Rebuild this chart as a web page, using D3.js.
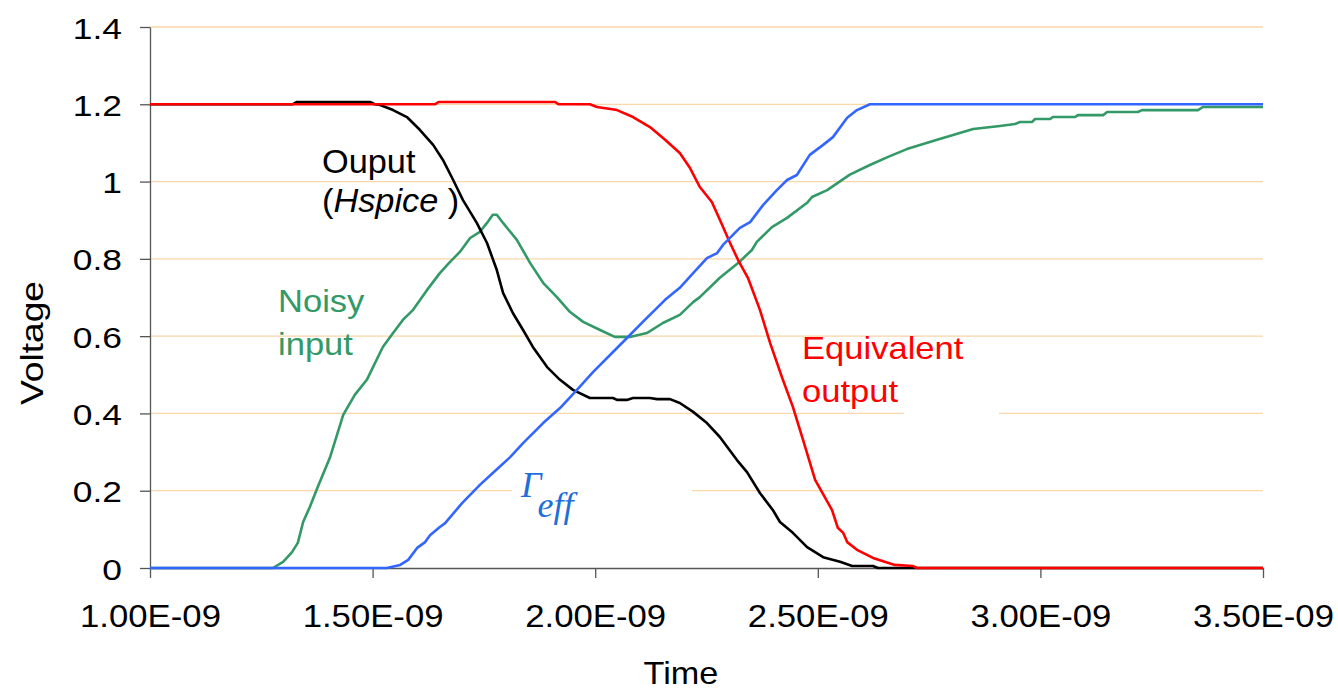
<!DOCTYPE html>
<html>
<head>
<meta charset="utf-8">
<script src="https://cdn.jsdelivr.net/npm/d3@7"></script>
<style>
  body { margin: 0; background: #fff; }
  svg { display: block; font-family: "Liberation Sans", Arial, sans-serif; }
</style>
</head>
<body>
<svg id="chart" width="1338" height="691"></svg>
<script>
// time in ns (axis labels show seconds), voltage in V
var yTicks = [0, 0.2, 0.4, 0.6, 0.8, 1, 1.2, 1.4];
var yLabels = ['0', '0.2', '0.4', '0.6', '0.8', '1', '1.2', '1.4'];
var xTicks = [1, 1.5, 2, 2.5, 3, 3.5];
var xLabels = ['1.00E-09', '1.50E-09', '2.00E-09', '2.50E-09', '3.00E-09', '3.50E-09'];

var noisyInput = [[1.000,0],[1.276,0],[1.299,0.016],[1.319,0.041],[1.332,0.065],[1.344,0.119],[1.359,0.158],
  [1.377,0.210],[1.404,0.285],[1.434,0.396],[1.460,0.448],[1.487,0.487],[1.523,0.572],[1.546,0.608],
  [1.568,0.642],[1.591,0.668],[1.622,0.719],[1.651,0.763],[1.674,0.792],[1.696,0.818],[1.719,0.854],
  [1.741,0.870],[1.757,0.893],[1.770,0.914],[1.779,0.914],[1.793,0.893],[1.824,0.849],[1.854,0.789],
  [1.883,0.738],[1.914,0.701],[1.943,0.663],[1.973,0.637],[2.011,0.616],[2.044,0.598],[2.078,0.598],
  [2.116,0.608],[2.152,0.634],[2.190,0.655],[2.220,0.688],[2.235,0.701],[2.280,0.751],[2.321,0.789],
  [2.352,0.823],[2.363,0.844],[2.397,0.882],[2.431,0.906],[2.476,0.945],[2.487,0.960],[2.521,0.978],
  [2.572,1.018],[2.617,1.043],[2.658,1.064],[2.700,1.084],[2.768,1.108],[2.849,1.136],[2.909,1.144],
  [2.943,1.149],[2.954,1.154],[2.981,1.154],[2.988,1.162],[3.022,1.162],[3.028,1.167],[3.078,1.167],
  [3.084,1.172],[3.141,1.172],[3.150,1.180],[3.219,1.180],[3.228,1.185],[3.354,1.185],[3.365,1.193],
  [3.500,1.193]];

var outputHspice = [[1.000,1.200],[1.320,1.200],[1.330,1.206],[1.494,1.206],[1.505,1.200],[1.517,1.198],
  [1.546,1.185],[1.577,1.167],[1.606,1.134],[1.636,1.095],[1.658,1.056],[1.681,1.004],[1.703,0.952],
  [1.734,0.893],[1.757,0.841],[1.779,0.771],[1.793,0.712],[1.815,0.660],[1.838,0.616],[1.860,0.572],
  [1.892,0.520],[1.921,0.487],[1.950,0.461],[1.988,0.440],[2.040,0.440],[2.049,0.435],[2.071,0.435],
  [2.085,0.440],[2.123,0.440],[2.139,0.437],[2.168,0.437],[2.190,0.427],[2.220,0.404],[2.251,0.375],
  [2.280,0.339],[2.318,0.280],[2.341,0.248],[2.370,0.194],[2.399,0.150],[2.415,0.119],[2.444,0.091],
  [2.476,0.054],[2.512,0.028],[2.550,0.016],[2.577,0.005],[2.624,0.005],[2.635,0],[3.500,0]];

var equivOutput = [[1.000,1.200],[1.640,1.200],[1.648,1.206],[1.910,1.206],[1.918,1.200],[1.988,1.200],
  [2.004,1.193],[2.049,1.185],[2.085,1.167],[2.123,1.141],[2.157,1.108],[2.190,1.074],[2.213,1.035],
  [2.235,0.986],[2.262,0.947],[2.280,0.901],[2.303,0.841],[2.321,0.797],[2.343,0.751],[2.370,0.668],
  [2.393,0.582],[2.420,0.492],[2.444,0.417],[2.467,0.331],[2.494,0.228],[2.532,0.150],[2.545,0.104],
  [2.557,0.091],[2.566,0.067],[2.588,0.047],[2.624,0.026],[2.673,0.008],[2.714,0.005],[2.723,0],
  [3.500,0]];

var gammaEff = [[1.000,0],[1.532,0],[1.562,0.008],[1.580,0.021],[1.600,0.052],[1.618,0.067],[1.629,0.085],
  [1.651,0.106],[1.663,0.116],[1.701,0.168],[1.741,0.215],[1.770,0.246],[1.809,0.287],[1.838,0.323],
  [1.883,0.375],[1.921,0.414],[1.959,0.461],[1.995,0.507],[2.040,0.559],[2.078,0.603],[2.107,0.637],
  [2.157,0.694],[2.190,0.725],[2.220,0.763],[2.251,0.802],[2.274,0.815],[2.287,0.836],[2.325,0.880],
  [2.348,0.895],[2.377,0.939],[2.408,0.978],[2.431,1.004],[2.453,1.017],[2.482,1.069],[2.512,1.095],
  [2.534,1.115],[2.566,1.165],[2.588,1.185],[2.617,1.200],[3.500,1.200]];

var svg = d3.select('#chart');
var x = d3.scaleLinear().domain([1, 3.5]).range([150, 1263]);
var y = d3.scaleLinear().domain([0, 1.4]).range([568, 27]);

// gridlines
svg.append('g').selectAll('line')
  .data(yTicks.filter(function(d){ return d > 0; }))
  .enter().append('line')
  .attr('x1', x(1)).attr('x2', x(3.5))
  .attr('y1', function(d){ return y(d); }).attr('y2', function(d){ return y(d); })
  .attr('stroke', '#fbd6a8').attr('stroke-width', 1.3);

// white label boxes hiding the grid
svg.append('rect').attr('x', 512).attr('y', 468).attr('width', 180).attr('height', 55).attr('fill', '#fff');
svg.append('rect').attr('x', 904).attr('y', 405).attr('width', 95).attr('height', 20).attr('fill', '#fff');

// axes
var yAxis = svg.append('g').attr('transform', 'translate(150,0)')
  .call(d3.axisLeft(y).tickValues(yTicks).tickSize(10).tickSizeOuter(0)
    .tickFormat(function(d, i){ return yLabels[i]; }));
var xAxis = svg.append('g').attr('transform', 'translate(0,568)')
  .call(d3.axisBottom(x).tickValues(xTicks).tickSize(10).tickSizeOuter(0)
    .tickFormat(function(d, i){ return xLabels[i]; }));

[yAxis, xAxis].forEach(function(a){
  a.select('.domain').attr('stroke', '#555').attr('stroke-width', 1.3);
  a.selectAll('.tick line').attr('stroke', '#555').attr('stroke-width', 1.3);
  a.selectAll('.tick text').attr('fill', '#000').attr('font-family', '"Liberation Sans", Arial, sans-serif');
});
yAxis.selectAll('.tick text')
  .attr('x', 0).attr('dy', 0).attr('font-size', 30).attr('text-anchor', 'end')
  .attr('transform', 'translate(-28,11) scale(1.18,1)');
xAxis.selectAll('.tick text')
  .attr('y', 0).attr('dy', 0).attr('font-size', 31).attr('text-anchor', 'middle')
  .attr('transform', 'translate(0,59) scale(1.12,1)');

// series
var line = d3.line()
  .x(function(d){ return x(d[0]); })
  .y(function(d){ return y(d[1]); });

var series = [
  { data: noisyInput, color: '#339966' },
  { data: outputHspice, color: '#000000' },
  { data: equivOutput, color: '#ff0000' },
  { data: gammaEff, color: '#3366ff' }
];
svg.append('g').selectAll('path')
  .data(series)
  .enter().append('path')
  .attr('d', function(d){ return line(d.data); })
  .attr('fill', 'none')
  .attr('stroke', function(d){ return d.color; })
  .attr('stroke-width', 2.6)
  .attr('stroke-linejoin', 'round');

// text helper, stretched along its baseline
function label(tx, ty, size, sx, anchor, fill, str, rot) {
  var t = svg.append('text')
    .attr('transform', 'translate(' + tx + ',' + ty + ')' + (rot ? ' rotate(' + rot + ')' : '') + ' scale(' + sx + ',1)')
    .attr('font-size', size)
    .attr('text-anchor', anchor)
    .attr('fill', fill);
  if (str) t.text(str);
  return t;
}

label(681, 684, 32, 1.07, 'middle', '#000', 'Time');
label(43, 343, 31, 1.2, 'middle', '#000', 'Voltage', -90);

label(322, 173, 33, 1.04, 'start', '#000', 'Ouput');
var hs = label(322, 212, 33, 1.04, 'start', '#000');
hs.append('tspan').text('(');
hs.append('tspan').attr('font-style', 'italic').text('Hspice');
hs.append('tspan').text(' )');

label(278, 312, 32, 1.08, 'start', '#339966', 'Noisy');
label(278, 355, 32, 1.08, 'start', '#339966', 'input');

label(802, 359, 32, 1.08, 'start', '#ff0000', 'Equivalent');
label(802, 402, 32, 1.08, 'start', '#ff0000', 'output');

var g = svg.append('text')
  .attr('x', 521).attr('y', 497)
  .attr('font-family', '"Liberation Serif", "Times New Roman", serif')
  .attr('font-style', 'italic')
  .attr('font-size', 36)
  .attr('fill', '#1f6fd8');
g.append('tspan').text('Γ');
g.append('tspan').attr('dy', 20).attr('dx', -4).text('eff');
</script>
</body>
</html>
